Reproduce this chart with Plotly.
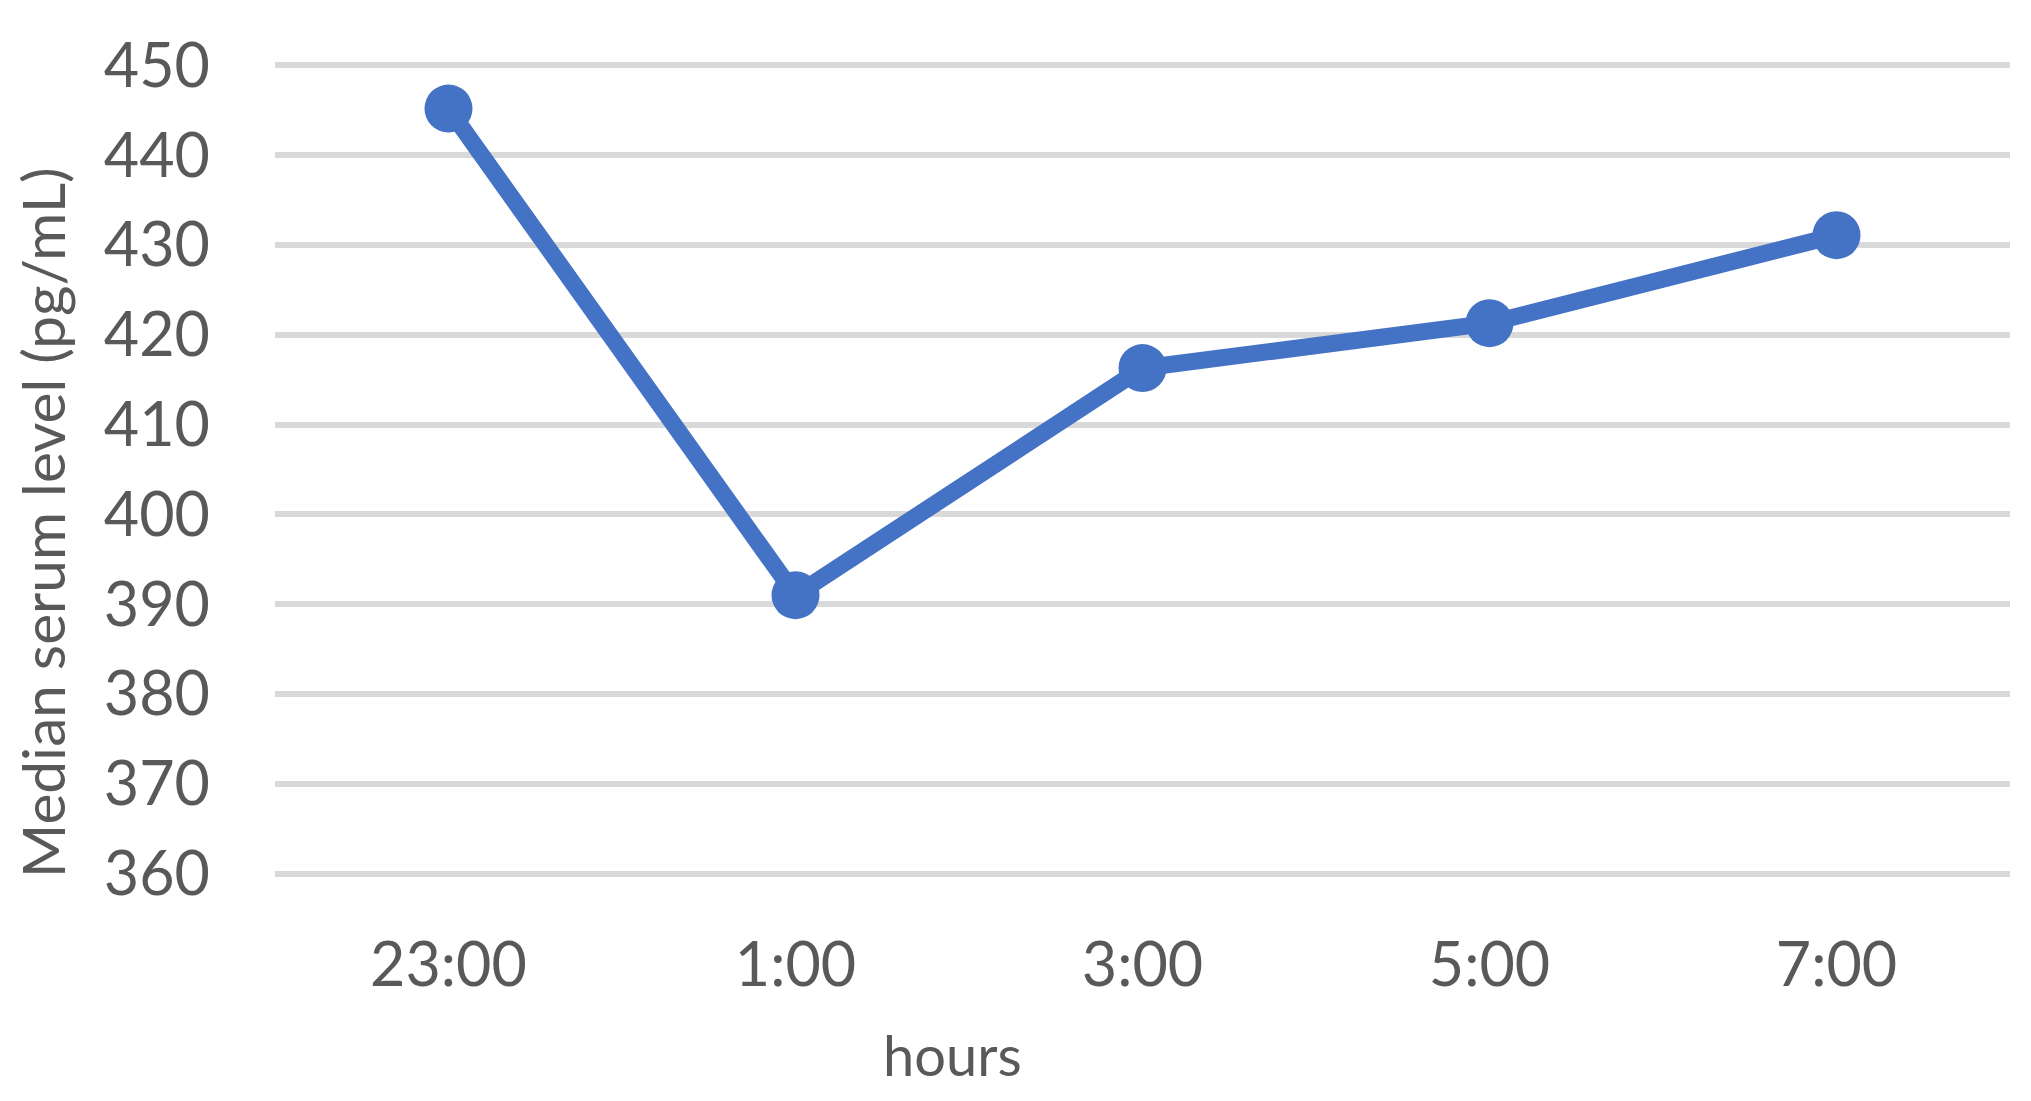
import plotly.graph_objects as go

hours = ["23:00", "1:00", "3:00", "5:00", "7:00"]
median_serum = [445.2, 391.0, 416.3, 421.3, 431.1]
y_ticks = [360, 370, 380, 390, 400, 410, 420, 430, 440, 450]

# page body adds an 8 px margin; the figure is sized so it fits the window
W, H = 2023, 1093
L, R = 267, 21
T, B = 52.5, 222.5
FONT = "Lato, 'Open Sans', sans-serif"
TXT = "#595959"

fig = go.Figure()
fig.add_trace(go.Scatter(
    x=hours, y=median_serum, mode="lines+markers",
    line=dict(color="#4472C4", width=17),
    marker=dict(color="#4472C4", size=48),
    showlegend=False, cliponaxis=False,
))

PW, PH = W - L - R, H - T - B

fig.update_layout(
    width=W, height=H,
    margin=dict(l=L, r=R, t=T, b=B, pad=0),
    paper_bgcolor="white", plot_bgcolor="white",
    font=dict(family=FONT, color=TXT),
    xaxis=dict(
        type="category", range=[-0.5, len(hours) - 0.5],
        showgrid=False, zeroline=False, showline=False,
        ticks="", tickfont=dict(size=61, color=TXT), ticklabelstandoff=46,
    ),
    yaxis=dict(
        range=[359.5, 450.5], tickvals=y_ticks, ticktext=[str(v) for v in y_ticks],
        showgrid=True, gridcolor="#D9D9D9", gridwidth=6, zeroline=False,
        showline=False, ticks="", tickfont=dict(size=61, color=TXT),
        ticklabelstandoff=64,
    ),
    annotations=[
        dict(text="hours", xref="paper", yref="paper",
             x=(944 - L) / PW, y=-(1047 - (H - B)) / PH,
             showarrow=False, xanchor="center", yanchor="middle",
             borderpad=0, font=dict(size=56, color=TXT)),
        dict(text="Median serum level (pg/mL)", xref="paper", yref="paper",
             x=(34 - L) / PW, y=((H - B) - 515) / PH,
             showarrow=False, xanchor="center", yanchor="middle", textangle=-90,
             borderpad=0, font=dict(size=58.5, color=TXT)),
    ],
)

fig.write_html("out.html")
